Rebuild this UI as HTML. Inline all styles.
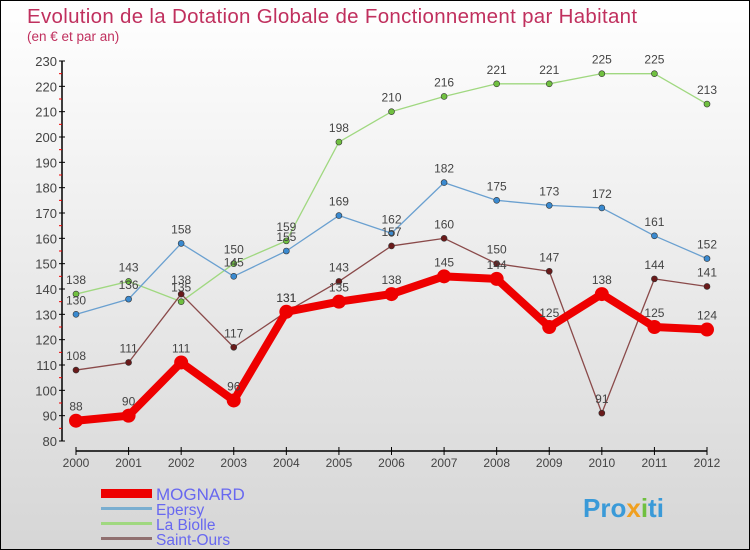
<!DOCTYPE html>
<html><head><meta charset="utf-8"><style>
body{margin:0}
#c{width:748px;height:548px;border:1px solid #000;background:linear-gradient(#fff,#d6d6d6);position:relative;font-family:"Liberation Sans",sans-serif;overflow:hidden}
svg text{font-family:"Liberation Sans",sans-serif}
</style></head><body>
<div id="c">
<svg id="s" width="748" height="548">
<text x="26" y="22" font-size="20.5" letter-spacing="0.3" fill="#c0305e">Evolution de la Dotation Globale de Fonctionnement par Habitant</text>
<text x="26" y="40" font-size="13.5" fill="#c0305e">(en € et par an)</text>
<g id="axes"></g><g id="series"></g>
<g>
<rect x="100" y="488" width="51" height="9" fill="#e00"/>
<text x="155" y="499" font-size="17" fill="#6868f0">MOGNARD</text>
<rect x="100" y="506" width="51" height="3" fill="#7aaed0"/>
<text x="155" y="514" font-size="15.5" fill="#6868f0">Epersy</text>
<rect x="100" y="521" width="51" height="3" fill="#a0d880"/>
<text x="155" y="529" font-size="15.5" fill="#6868f0">La Biolle</text>
<rect x="100" y="536" width="51" height="3" fill="#907070"/>
<text x="155" y="544" font-size="15.5" fill="#6868f0">Saint-Ours</text>
</g>
<text x="582" y="516" font-size="26" font-weight="bold" fill="#3a9ad8">Pro<tspan fill="#f0a020">x</tspan><tspan fill="#70c040">i</tspan>ti</text>
</svg></div>
<script>
const years=[2000,2001,2002,2003,2004,2005,2006,2007,2008,2009,2010,2011,2012];
const mognard=[88,90,111,96,131,135,138,145,144,125,138,125,124];
const epersy=[130,136,158,145,155,169,162,182,175,173,172,161,152];
const laBiolle=[138,143,135,150,159,198,210,216,221,221,225,225,213];
const saintOurs=[108,111,138,117,131,143,157,160,150,147,91,144,141];
const yTicks=[80,90,100,110,120,130,140,150,160,170,180,190,200,210,220,230];
const NS="http://www.w3.org/2000/svg";
const X=i=>75+i*(706-75)/(years.length-1);
const Y=v=>440-(v-80)*(380/150);
function mk(t,a,p){const e=document.createElementNS(NS,t);for(const k in a)e.setAttribute(k,a[k]);p.appendChild(e);return e;}
const ax=document.getElementById('axes');
const yl=mk('line',{x1:61,y1:Y(230),x2:61,y2:Y(80),stroke:'#000','stroke-width':1.5},ax);


yTicks.forEach(v=>{
 mk('line',{x1:58,y1:Y(v),x2:64,y2:Y(v),stroke:'#000'},ax);
 if(v<230) mk('line',{x1:58,y1:Y(v+5),x2:61,y2:Y(v+5),stroke:'#e00'},ax);
 const t=mk('text',{x:56,y:Y(v)+5,'font-size':13,fill:'#444','text-anchor':'end'},ax);t.textContent=v;
 
 
});
const xl=mk('line',{x1:75,y1:450,x2:706,y2:450,stroke:'#000','stroke-width':1.5},ax);


years.forEach((y,i)=>{
 mk('line',{x1:X(i),y1:446,x2:X(i),y2:454,stroke:'#000'},ax);
 const t=mk('text',{x:X(i),y:466,'font-size':12,fill:'#444','text-anchor':'middle'},ax);t.textContent=y;
 
 
});
const sg=document.getElementById('series');
function series(vals,col,w,r,name,dot){
 const g=mk('g',{},sg);
 
 
 mk('polyline',{points:vals.map((v,i)=>X(i)+','+Y(v)).join(' '),fill:'none',stroke:col,'stroke-width':w,'stroke-linejoin':'round'},g);
 vals.forEach((v,i)=>{
  const c=mk('circle',{cx:X(i),cy:Y(v),r:r,fill:dot,stroke:'#333','stroke-width':r>4?0:0.6},g);
  
  
  const t=mk('text',{x:X(i),y:Y(v)-10,'font-size':12,fill:'#444','text-anchor':'middle'},g);t.textContent=v;
 });
}
series(laBiolle,'#a0d880',1.3,3,'la-biolle','#70c040');
series(epersy,'#6aa0d0',1.3,3,'epersy','#3a8ad0');
series(saintOurs,'#8a4a4a',1.3,3,'saint-ours','#6a1a1a');
series(mognard,'#e00',8,7,'mognard','#e00');
</script>
</body></html>
